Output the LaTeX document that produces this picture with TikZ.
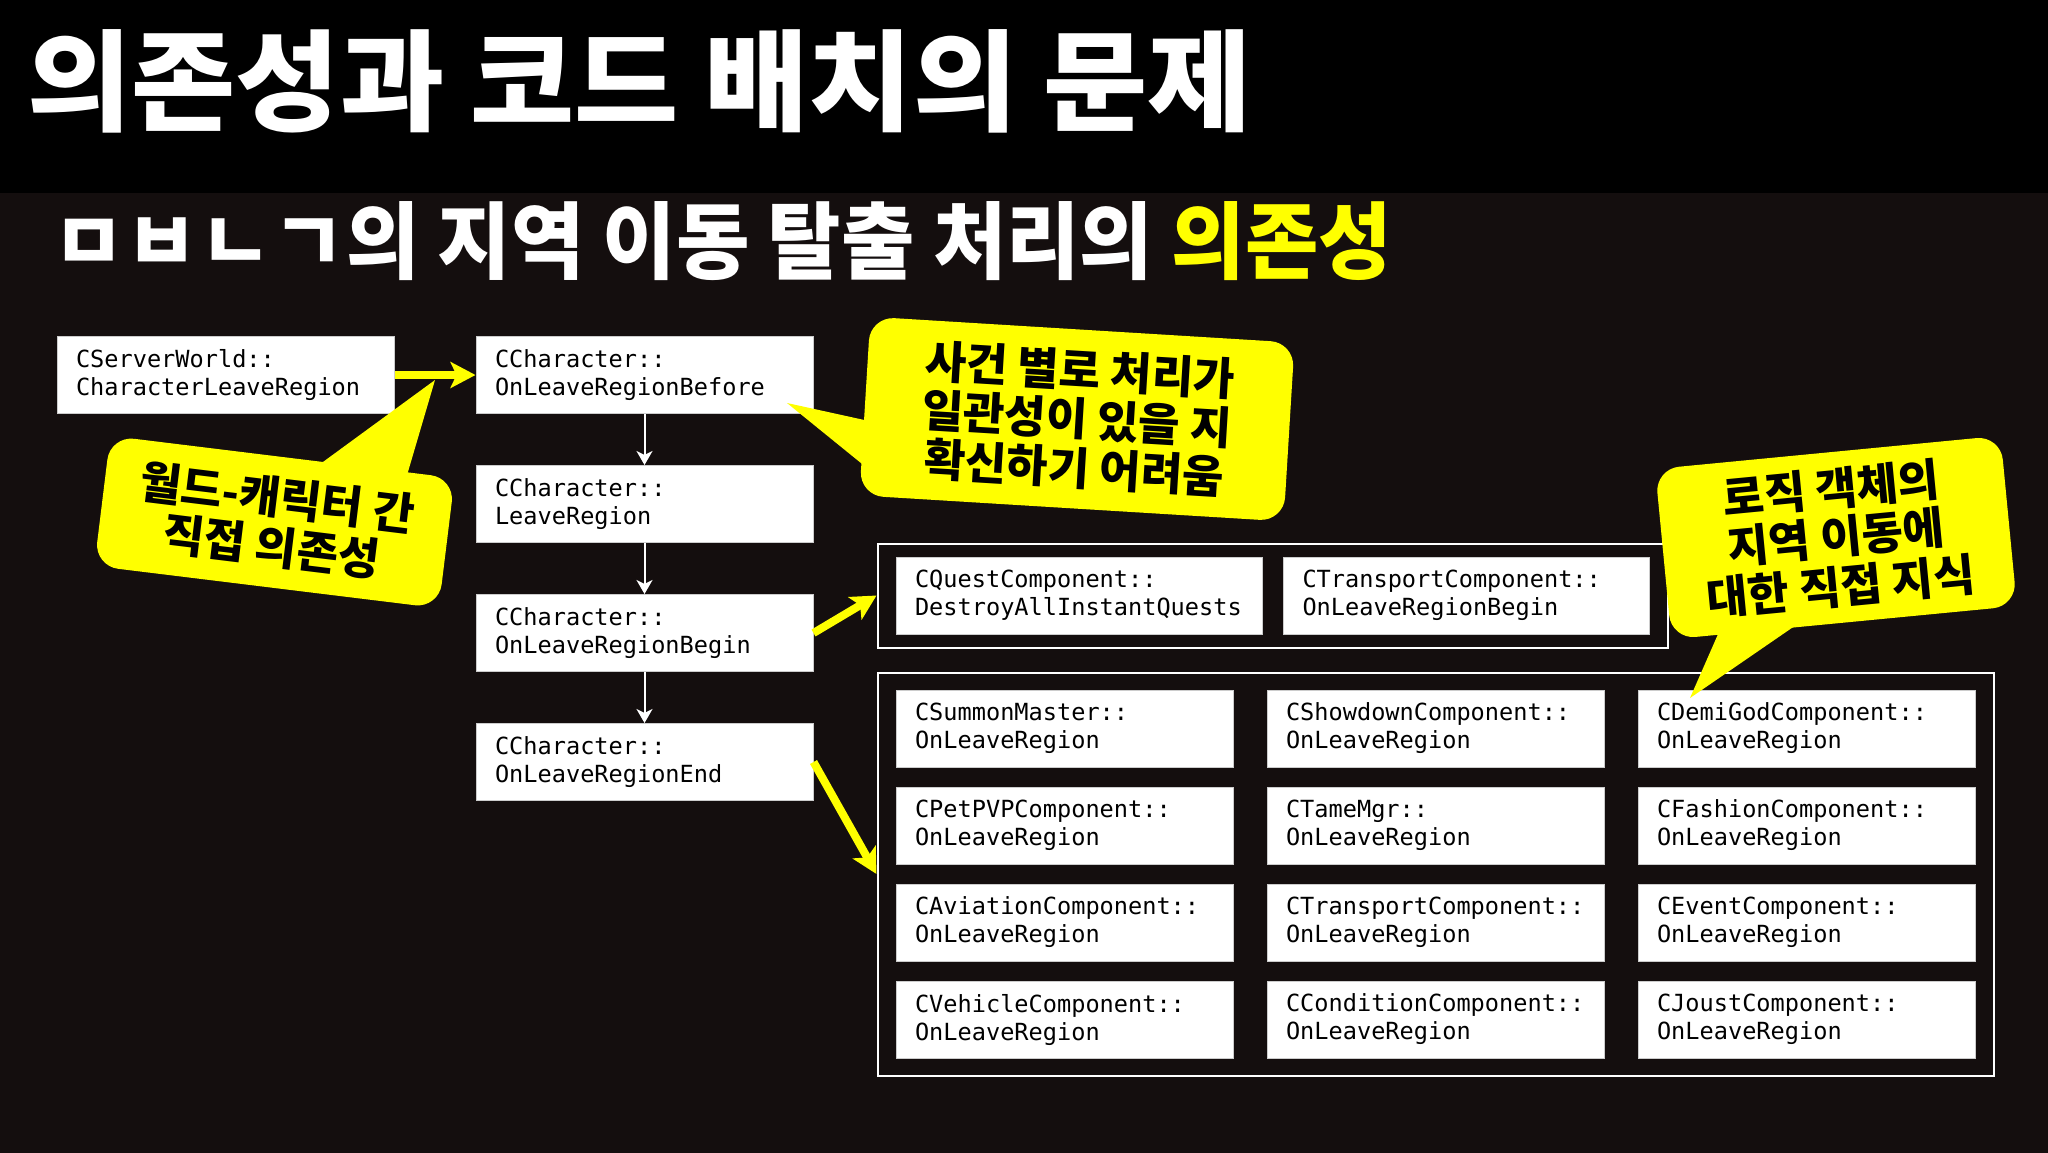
\documentclass[tikz,border=0pt]{standalone}
\usepackage{fontspec}
\setmonofont{DejaVu Sans Mono}
\newfontfamily\titlefont[FakeStretch=1.03]{Noto Sans CJK KR}
\newfontfamily\subfont[FakeStretch=0.95]{Noto Sans CJK KR}
\newfontfamily\notefont[FakeStretch=1.0]{Noto Sans CJK KR}
\usetikzlibrary{arrows.meta,fit,positioning}
\definecolor{hlyellow}{RGB}{255,255,0}
\definecolor{bgdark}{RGB}{20,14,14}
\tikzset{my box/.style={
  fill=white, draw=black!20, line width=0.5pt,
  minimum height=38.5pt, text width=149.5pt, inner xsep=9.5pt,
  align=left, font=\ttfamily\fontsize{11.8}{14}\selectfont
  },
  wide box/.style={my box, text width=164pt},
  my frame/.style={draw=white, line width=1pt, inner xsep=9pt},
  my arrow/.style={white, line width=1pt, -{Stealth[length=7pt,width=8pt,inset=2pt]}},
  hl arrow/.style={hlyellow, line width=4pt, -{Stealth[length=12.5pt,width=13pt,inset=3pt]}},
  my callout/.style={fill=hlyellow, rounded corners=12pt, align=center, text=black,
  font=\notefont\bfseries\fontsize{22.5}{24.5}\selectfont}
}

\begin{document}
\begin{tikzpicture}[x=0.5pt,y=-0.5pt]
    \useasboundingbox (0,0) rectangle (2048,1152);
    \fill[black] (-10,-10) rectangle (2058,1162);
    \fill[bgdark] (-10,193) rectangle (2058,1162);

    \node[anchor=base west,inner sep=0,text=white,font=\titlefont\bfseries\fontsize{55}{55}\selectfont] (title) at (27,122) {의존성과 코드 배치의 문제};
    \node[anchor=base west,inner sep=0,text=white,font=\subfont\bfseries\fontsize{42}{42}\selectfont] (subtitle) at (52,272) {ㅁㅂㄴㄱ의 지역 이동 탈출 처리의 \textcolor{hlyellow}{의존성}};

    % call chain
    \node[my box] (S) at (225.5,375) {CServerWorld::\\CharacterLeaveRegion};
    \foreach \i [count=\n] in {OnLeaveRegionBefore,LeaveRegion,OnLeaveRegionBegin,OnLeaveRegionEnd}
        \node[my box] (C\n) at (644.5,{375+129*(\n-1)}) {CCharacter::\\\i};

    \draw[hl arrow] (S) -- (C1);
    \foreach \n/\m in {1/2,2/3,3/4}
        \draw[my arrow] (C\n) -- (C\m);

    % components
    \node[wide box] (Q1) at (1079,595.5) {CQuestComponent::\\DestroyAllInstantQuests};
    \node[wide box] (Q2) at (1466.5,595.5) {CTransportComponent::\\OnLeaveRegionBegin};
    \node[my frame,inner ysep=6.5pt,fit=(Q1)(Q2)] (U) {};

    \foreach \c [count=\n from 0] in {CSummonMaster,CPetPVPComponent,CAviationComponent,CVehicleComponent}
        \node[my box] (G1\n) at (1064.5,{728.5+97*\n}) {\c::\\OnLeaveRegion};
    \foreach \c [count=\n from 0] in {CShowdownComponent,CTameMgr,CTransportComponent,CConditionComponent}
        \node[my box] (G2\n) at (1435.5,{728.5+97*\n}) {\c::\\OnLeaveRegion};
    \foreach \c [count=\n from 0] in {CDemiGodComponent,CFashionComponent,CEventComponent,CJoustComponent}
        \node[my box] (G3\n) at (1806.5,{728.5+97*\n}) {\c::\\OnLeaveRegion};
    \node[my frame,inner ysep=8.5pt,fit=(G10)(G33)] (L) {};

    \draw[hl arrow] (C3.east) -- (U.west);
    \draw[hl arrow] (C4.east) -- (L.west);

    % callouts
    \fill[hlyellow] (435,380) -- (312,470) -- (405,482) -- cycle;
    \node[my callout,rotate=-7,minimum width=173.5pt,minimum height=65.5pt] (note1) at (274.5,522) {월드-캐릭터 간\\직접 의존성};

    \fill[hlyellow] (787,403) -- (878,423) -- (872,472) -- cycle;
    \node[my callout,rotate=-3.5,minimum width=212.5pt,minimum height=89.5pt] (note2) at (1077,419) {사건 별로 처리가\\일관성이 있을 지\\확신하기 어려움};

    \fill[hlyellow] (1690,698) -- (1722,625) -- (1815,612) -- cycle;
    \node[my callout,rotate=5.5,minimum width=173.5pt,minimum height=85.5pt] (note3) at (1836,537.5) {로직 객체의\\지역 이동에\\대한 직접 지식};
\end{tikzpicture}
\end{document}
